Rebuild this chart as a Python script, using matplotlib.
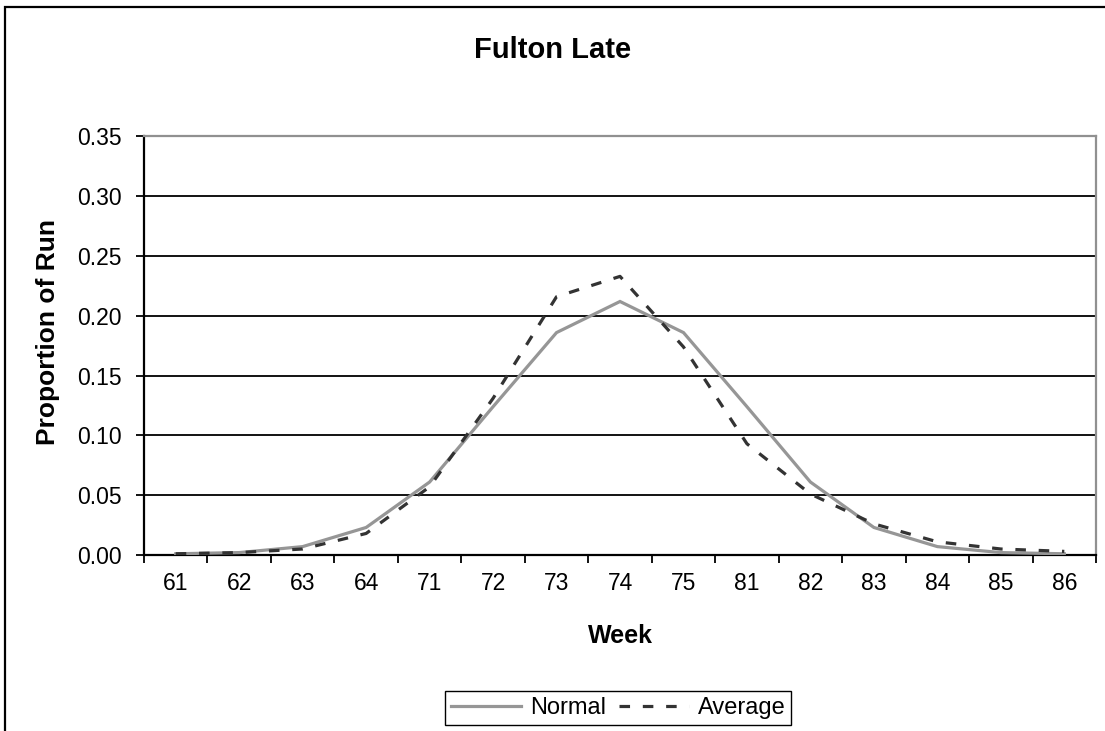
import matplotlib
import matplotlib.pyplot as plt
from matplotlib.patches import Rectangle

matplotlib.use("Agg")

weeks = ["61", "62", "63", "64", "71", "72", "73", "74", "75", "81", "82", "83", "84", "85", "86"]
normal = [0.001, 0.002, 0.007, 0.023, 0.061, 0.124, 0.186, 0.212, 0.186, 0.124, 0.061, 0.023, 0.007, 0.002, 0.001]
average = [0.001, 0.002, 0.005, 0.018, 0.057, 0.131, 0.216, 0.233, 0.174, 0.093, 0.051, 0.026, 0.011, 0.005, 0.003]
y_ticks = [0.0, 0.05, 0.10, 0.15, 0.20, 0.25, 0.30, 0.35]


def plot_fulton_late(out: str) -> None:
    plt.rcParams["font.family"] = ["Liberation Sans", "DejaVu Sans"]
    fig = plt.figure(figsize=(11.05, 7.31), dpi=100)
    ax = fig.add_axes([0.1303, 0.2408, 0.8616, 0.5725])

    x = list(range(len(weeks)))
    ax.plot(x, normal, color="#969696", lw=2.3, label="Normal", solid_joinstyle="miter", zorder=3)
    ax.plot(x, average, color="#333333", lw=2.3, linestyle=(0, (3.3, 4.0)), label="Average", zorder=4)

    ax.set_xlim(-0.5, len(weeks) - 0.5)
    ax.set_ylim(0, 0.35)
    ax.set_yticks(y_ticks)
    ax.set_yticklabels([f"{v:.2f}" for v in y_ticks])
    ax.yaxis.grid(True, color="black", lw=1.3)
    ax.set_axisbelow(True)

    ax.set_xticks(x)
    ax.set_xticklabels(weeks)
    ax.set_xticks([i - 0.5 for i in range(len(weeks) + 1)], minor=True)
    ax.tick_params(axis="x", which="major", length=0, pad=12, labelsize=16.5)
    ax.tick_params(axis="x", which="minor", length=6, width=1.3, color="black", direction="out")
    ax.tick_params(axis="y", length=6, width=1.3, pad=10, labelsize=16.5)

    for side in ["left", "bottom"]:
        ax.spines[side].set_color("black")
        ax.spines[side].set_linewidth(1.6)
    for side in ["top", "right"]:
        ax.spines[side].set_color("#909090")
        ax.spines[side].set_linewidth(1.6)

    ax.set_xlabel("Week", fontsize=18, fontweight="bold")
    ax.xaxis.set_label_coords(0.5, -0.1935)
    ax.xaxis.label.set_va("center")
    ax.set_ylabel("Proportion of Run", fontsize=19, fontweight="bold")
    ax.yaxis.set_label_coords(-0.1008, 0.533)
    ax.yaxis.label.set_va("center")

    fig.text(0.5, 1 - 50 / 731, "Fulton Late", ha="center", va="center", fontsize=21, fontweight="bold")

    fig.legend(loc="center", bbox_to_anchor=(0.5593, 0.0315), ncol=2, fontsize=17,
               fancybox=False, edgecolor="black", framealpha=1, borderpad=0.25,
               handlelength=3.0, handletextpad=0.35, columnspacing=0.55, borderaxespad=0)

    # outer chart border, cut off at right and bottom like the original
    fig.patches.append(Rectangle((5 / 1105, -0.5), 2, 0.5 + 1 - 7 / 731, transform=fig.transFigure,
                                 fill=False, edgecolor="black", lw=1.6))
    fig.savefig(out, dpi=100)


if __name__ == "__main__":
    plot_fulton_late("out.png")
